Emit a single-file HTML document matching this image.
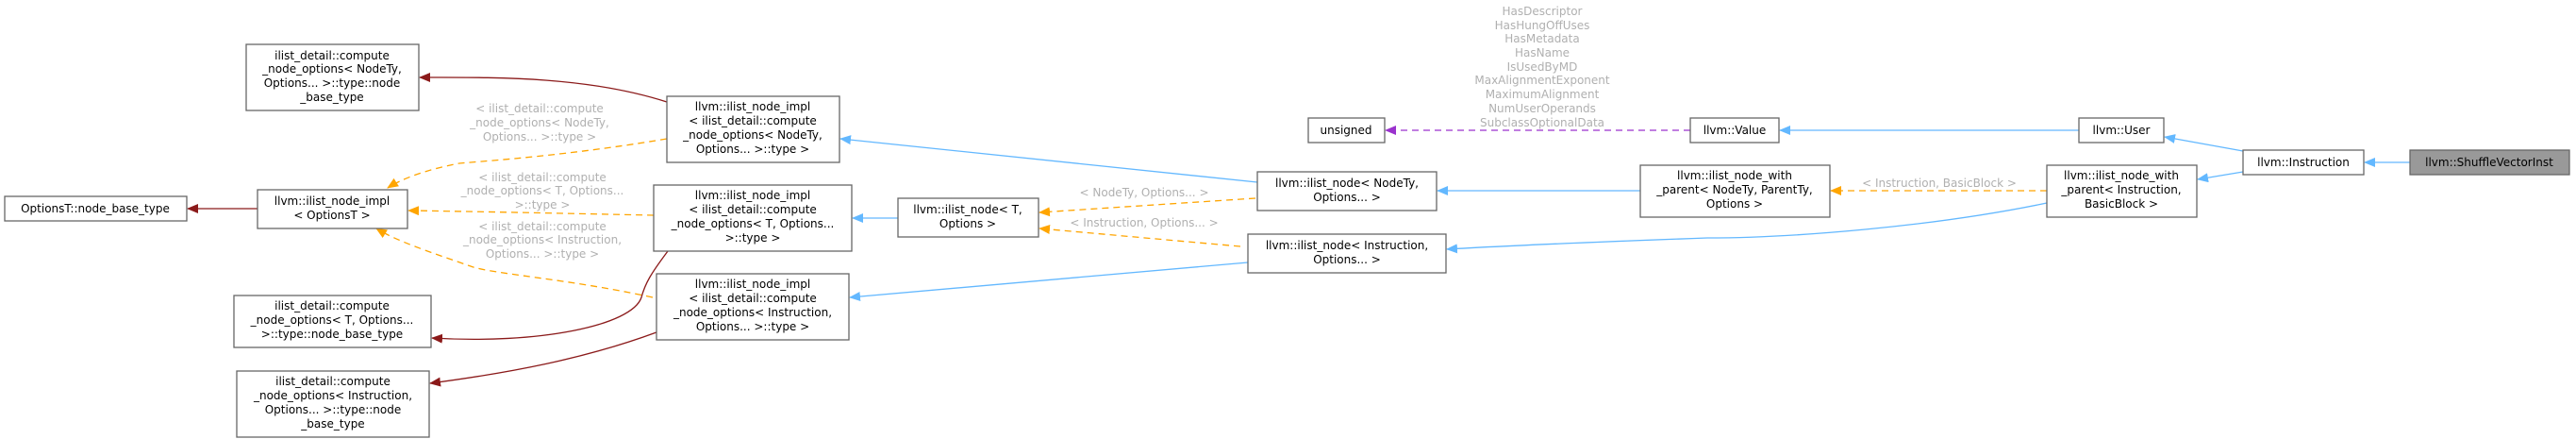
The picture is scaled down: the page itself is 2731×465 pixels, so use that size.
<!DOCTYPE html>
<html><head><meta charset="utf-8"><style>
html,body{margin:0;padding:0;background:#fff;}
svg{display:block;}
text{font-family:"DejaVu Sans","Liberation Sans",sans-serif;font-size:12px;fill:#000;}
.l{fill:#b0b0b0;}
rect{fill:#fff;stroke:#666;stroke-width:1.3;}
.b{stroke:#63b8ff;stroke-width:1.3;fill:none;}
.r{stroke:#8b1a1a;stroke-width:1.3;fill:none;}
.o{stroke:#ffa500;stroke-width:1.3;fill:none;stroke-dasharray:7,5;}
.p{stroke:#9a32cd;stroke-width:1.3;fill:none;stroke-dasharray:7,5;}
</style></head><body>
<svg width="2731" height="465" viewBox="0 0 2731 465" xmlns="http://www.w3.org/2000/svg">
<defs>
<marker id="mb" markerWidth="12" markerHeight="10" refX="11" refY="5" orient="auto" markerUnits="userSpaceOnUse"><path d="M0,0L12,5L0,10z" fill="#63b8ff"/></marker>
<marker id="mr" markerWidth="12" markerHeight="10" refX="11" refY="5" orient="auto" markerUnits="userSpaceOnUse"><path d="M0,0L12,5L0,10z" fill="#8b1a1a"/></marker>
<marker id="mo" markerWidth="12" markerHeight="10" refX="11" refY="5" orient="auto" markerUnits="userSpaceOnUse"><path d="M0,0L12,5L0,10z" fill="#ffa500"/></marker>
<marker id="mp" markerWidth="12" markerHeight="10" refX="11" refY="5" orient="auto" markerUnits="userSpaceOnUse"><path d="M0,0L12,5L0,10z" fill="#9a32cd"/></marker>
</defs>

<!-- edges -->
<path class="r" d="M707,108 C620,80 520,82 445,82" marker-end="url(#mr)"/>
<path class="r" d="M273,221 L199,221" marker-end="url(#mr)"/>
<path class="o" d="M707,147 C600,165 520,170 487,173 C450,180 425,190 411,199" marker-end="url(#mo)"/>
<path class="o" d="M693,228 C600,226 500,224 433,223" marker-end="url(#mo)"/>
<path class="o" d="M692,315 C600,295 520,290 499,282 C450,265 420,255 399,242" marker-end="url(#mo)"/>
<path class="r" d="M708,266 C690,290 684,300 680,315 C670,345 570,365 458,358" marker-end="url(#mr)"/>
<path class="r" d="M696,352 C620,380 540,395 456,406" marker-end="url(#mr)"/>
<path class="b" d="M1333,193 L891,147" marker-end="url(#mb)"/>
<path class="b" d="M952,231 L904,231" marker-end="url(#mb)"/>
<path class="b" d="M1323,278 L901,315" marker-end="url(#mb)"/>
<path class="o" d="M1331,210 L1102,225" marker-end="url(#mo)"/>
<path class="o" d="M1315,261 L1102,242" marker-end="url(#mo)"/>
<path class="b" d="M1739,202 L1524,202" marker-end="url(#mb)"/>
<path class="b" d="M2170,215 C2050,240 1900,252 1810,252 C1700,256 1600,260 1534,264" marker-end="url(#mb)"/>
<path class="p" d="M1792,138 L1469,138" marker-end="url(#mp)"/>
<path class="b" d="M2204,138 L1887,138" marker-end="url(#mb)"/>
<path class="b" d="M2378,160 L2295,145" marker-end="url(#mb)"/>
<path class="b" d="M2378,182 L2330,190" marker-end="url(#mb)"/>
<path class="b" d="M2555,172 L2507,172" marker-end="url(#mb)"/>
<path class="o" d="M2170,202 L1941,202" marker-end="url(#mo)"/>

<!-- edge labels -->
<g text-anchor="middle">
<text class="l" x="572" y="119">&lt; ilist_detail::compute</text>
<text class="l" x="572" y="134">_node_options&lt; NodeTy,</text>
<text class="l" x="572" y="149">Options... &gt;::type &gt;</text>
<text class="l" x="575" y="192">&lt; ilist_detail::compute</text>
<text class="l" x="575" y="206">_node_options&lt; T, Options...</text>
<text class="l" x="575" y="221">&gt;::type &gt;</text>
<text class="l" x="575" y="244">&lt; ilist_detail::compute</text>
<text class="l" x="575" y="258">_node_options&lt; Instruction,</text>
<text class="l" x="575" y="273">Options... &gt;::type &gt;</text>
<text class="l" x="1213" y="208">&lt; NodeTy, Options... &gt;</text>
<text class="l" x="1213" y="240">&lt; Instruction, Options... &gt;</text>
<text class="l" x="2056" y="198">&lt; Instruction, BasicBlock &gt;</text>
<text class="l" x="1635" y="16">HasDescriptor</text>
<text class="l" x="1635" y="31">HasHungOffUses</text>
<text class="l" x="1635" y="45">HasMetadata</text>
<text class="l" x="1635" y="60">HasName</text>
<text class="l" x="1635" y="75">IsUsedByMD</text>
<text class="l" x="1635" y="89">MaxAlignmentExponent</text>
<text class="l" x="1635" y="104">MaximumAlignment</text>
<text class="l" x="1635" y="119">NumUserOperands</text>
<text class="l" x="1635" y="134">SubclassOptionalData</text>
</g>

<!-- nodes -->
<rect x="261" y="47" width="183" height="70"/>
<rect x="5" y="208" width="193" height="26"/>
<rect x="273" y="201" width="159" height="41"/>
<rect x="707" y="102" width="183" height="70"/>
<rect x="693" y="196" width="210" height="70"/>
<rect x="696" y="290" width="204" height="70"/>
<rect x="248" y="313" width="209" height="55"/>
<rect x="251" y="393" width="204" height="70"/>
<rect x="1387" y="125" width="81" height="26"/>
<rect x="952" y="210" width="149" height="41"/>
<rect x="1333" y="182" width="190" height="41"/>
<rect x="1323" y="248" width="210" height="41"/>
<rect x="1739" y="175" width="201" height="55"/>
<rect x="1792" y="125" width="94" height="26"/>
<rect x="2204" y="125" width="90" height="26"/>
<rect x="2378" y="159" width="128" height="26"/>
<rect x="2170" y="175" width="159" height="55"/>
<rect x="2555" y="159" width="169" height="26" style="fill:#999"/>

<g text-anchor="middle">
<text x="352" y="63">ilist_detail::compute</text>
<text x="352" y="77">_node_options&lt; NodeTy,</text>
<text x="352" y="92">Options... &gt;::type::node</text>
<text x="352" y="107">_base_type</text>
<text x="101" y="225">OptionsT::node_base_type</text>
<text x="352" y="217">llvm::ilist_node_impl</text>
<text x="352" y="232">&lt; OptionsT &gt;</text>
<text x="798" y="117">llvm::ilist_node_impl</text>
<text x="798" y="132">&lt; ilist_detail::compute</text>
<text x="798" y="147">_node_options&lt; NodeTy,</text>
<text x="798" y="162">Options... &gt;::type &gt;</text>
<text x="798" y="211">llvm::ilist_node_impl</text>
<text x="798" y="226">&lt; ilist_detail::compute</text>
<text x="798" y="241">_node_options&lt; T, Options...</text>
<text x="798" y="256">&gt;::type &gt;</text>
<text x="798" y="305">llvm::ilist_node_impl</text>
<text x="798" y="320">&lt; ilist_detail::compute</text>
<text x="798" y="335">_node_options&lt; Instruction,</text>
<text x="798" y="350">Options... &gt;::type &gt;</text>
<text x="352" y="328">ilist_detail::compute</text>
<text x="352" y="343">_node_options&lt; T, Options...</text>
<text x="352" y="358">&gt;::type::node_base_type</text>
<text x="353" y="408">ilist_detail::compute</text>
<text x="353" y="423">_node_options&lt; Instruction,</text>
<text x="353" y="438">Options... &gt;::type::node</text>
<text x="353" y="453">_base_type</text>
<text x="1427" y="142">unsigned</text>
<text x="1026" y="226">llvm::ilist_node&lt; T,</text>
<text x="1026" y="241">Options &gt;</text>
<text x="1428" y="198">llvm::ilist_node&lt; NodeTy,</text>
<text x="1428" y="213">Options... &gt;</text>
<text x="1428" y="264">llvm::ilist_node&lt; Instruction,</text>
<text x="1428" y="279">Options... &gt;</text>
<text x="1839" y="190">llvm::ilist_node_with</text>
<text x="1839" y="205">_parent&lt; NodeTy, ParentTy,</text>
<text x="1839" y="220">Options &gt;</text>
<text x="1839" y="142">llvm::Value</text>
<text x="2249" y="142">llvm::User</text>
<text x="2442" y="176">llvm::Instruction</text>
<text x="2249" y="190">llvm::ilist_node_with</text>
<text x="2249" y="205">_parent&lt; Instruction,</text>
<text x="2249" y="220">BasicBlock &gt;</text>
<text x="2639" y="176">llvm::ShuffleVectorInst</text>
</g>
</svg>
</body></html>
